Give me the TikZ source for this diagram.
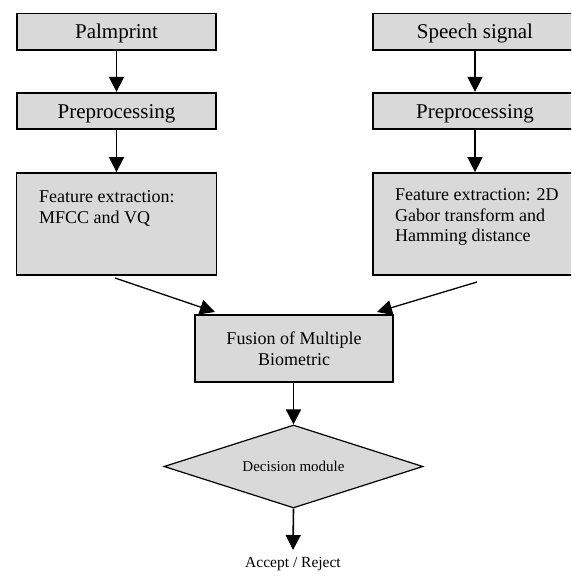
\documentclass[tikz,border=0pt]{standalone}
\usepackage{fontspec}
\setmainfont{Liberation Serif}
\usetikzlibrary{arrows.meta,shapes.geometric}
\definecolor{boxgray}{RGB}{217,217,217}
\begin{document}
\begin{tikzpicture}[x=1pt,y=-1pt,
  box/.style={draw, line width=1.8pt, fill=boxgray, inner sep=0pt},
  titlebox/.style={box, font=\fontsize{21}{24}\selectfont, text height=14pt, text depth=0pt, minimum height=36.5pt},
  ftext/.style={anchor=north west, align=left, inner sep=0pt, font=\fontsize{18}{20.5}\selectfont},
  arr/.style={line width=1.6pt, -{Triangle[width=15pt,length=15pt]}},
  sarr/.style={line width=1.3pt, -{Triangle[width=15pt,length=15pt]}}]
\clip (0,0) rectangle (571,576);
\fill[white] (0,0) rectangle (571,576);
% left column
\node[titlebox, minimum width=199pt] (palm) at (116.5,31.8) {Palmprint};
\node[titlebox, minimum width=199pt] (pre1) at (116.5,111) {Preprocessing};
\node[box, minimum width=200pt, minimum height=102pt] (feat1) at (116.5,224) {};
\node[ftext] (ft1) at (39,190.5) {Feature extraction:\\MFCC and VQ};
% right column
\node[titlebox, minimum width=204pt] (speech) at (475,31.8) {Speech signal};
\node[titlebox, minimum width=204pt] (pre2) at (475,111) {Preprocessing};
\node[box, minimum width=204pt, minimum height=102pt] (feat2) at (475,224) {};
\node[ftext] (ft2) at (395,188.5) {Feature extraction: 2D\\Gabor transform and\\Hamming distance};
% fusion
\node[box, minimum width=198pt, minimum height=67pt, align=center, font=\fontsize{18}{21}\selectfont] (fusion) at (294,348.5) {Fusion of Multiple\\Biometric};
% decision
\node[draw, diamond, aspect=3.12, line width=1.2pt, fill=boxgray, minimum width=259pt, minimum height=83pt, inner sep=0pt, font=\fontsize{15}{18}\selectfont] (dec) at (293.5,466.5) {Decision module};
\node[anchor=base, inner sep=0pt, font=\fontsize{15.5}{18}\selectfont] (acc) at (293,567) {Accept / Reject};
% coordinates
\coordinate (l1) at (115,278);
\coordinate (l2) at (215,312);
\coordinate (r1) at (477,282);
\coordinate (r2) at (377,312);
\coordinate (accpt) at (293,550);
% arrows
\draw[arr] (palm) -- (pre1);
\draw[arr] (pre1) -- (feat1);
\draw[arr] (speech) -- (pre2);
\draw[arr] (pre2) -- (feat2);
\draw[sarr] (l1) -- (l2);
\draw[sarr] (r1) -- (r2);
\draw[arr] (fusion.south -| dec.north) -- (dec.north);
\draw[arr] (dec.south) -- (accpt);
\end{tikzpicture}
\end{document}
